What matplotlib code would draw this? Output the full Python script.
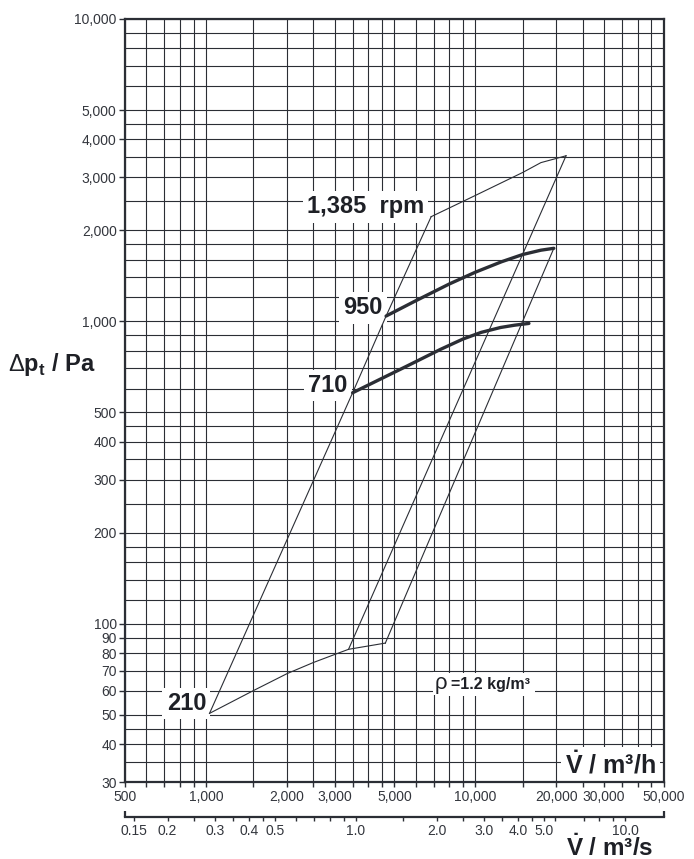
import numpy as np
import matplotlib
matplotlib.use('Agg')
import matplotlib.pyplot as plt
from matplotlib.ticker import FixedLocator, FixedFormatter, NullFormatter

plt.rcParams['font.family'] = ['Liberation Sans', 'DejaVu Sans']
plt.rcParams['mathtext.fontset'] = 'custom'
plt.rcParams['mathtext.rm'] = 'Liberation Sans:bold'
plt.rcParams['mathtext.bf'] = 'Liberation Sans:bold'
plt.rcParams['mathtext.sf'] = 'Liberation Sans'

ink = '#2b2e35'
lab = '#33363d'

# Drehzahlkennlinien: Volumenstrom m³/h, Druck Pa
rpm210_V = [1030, 1500, 2000, 2500, 3000, 3380, 4630]
rpm210_p = [50.6, 60.2, 68.5, 74.5, 79.2, 82.4, 86.4]
rpm710_V = [3500, 5570, 7410, 9000, 10500, 12400, 14000, 15800]
rpm710_p = [581, 712, 808, 875, 920, 955, 972, 985]
rpm950_V = [4660, 6000, 8000, 10000, 12500, 15000, 17500, 19550]
rpm950_p = [1042, 1170, 1330, 1455, 1575, 1665, 1720, 1745]
rpm1385_V = [6850, 10000, 15000, 17500, 20000, 21700]
rpm1385_p = [2220, 2610, 3110, 3350, 3460, 3530]

# Begrenzungslinien
left_V = [1030, 3500, 4660, 6850]
left_p = [50.6, 581, 1042, 2220]
mid_V = [3380, 21700]
mid_p = [82.4, 3530]
right_V = [4630, 19550]
right_p = [86.4, 1745]

# Achsen
x_major = [500, 1000, 2000, 3000, 5000, 10000, 20000, 30000, 50000]
x_labels = ['500', '1,000', '2,000', '3,000', '5,000', '10,000', '20,000', '30,000', '50,000']
x_minor = [600, 700, 800, 900, 1500, 2500, 3500, 4000, 4500, 6000, 7000, 8000, 9000,
           15000, 25000, 35000, 40000, 45000]
y_major = [30, 40, 50, 60, 70, 80, 90, 100, 200, 300, 400, 500,
           1000, 2000, 3000, 4000, 5000, 10000]
y_labels = ['30', '40', '50', '60', '70', '80', '90', '100', '200', '300', '400', '500',
            '1,000', '2,000', '3,000', '4,000', '5,000', '10,000']
y_minor = [35, 45, 120, 140, 160, 180, 250, 350, 450, 600, 700, 800, 900,
           1200, 1400, 1600, 1800, 2500, 3500, 4500, 6000, 7000, 8000, 9000]
s_major = [0.15, 0.2, 0.3, 0.4, 0.5, 1.0, 2.0, 3.0, 4.0, 5.0, 10.0]
s_labels = ['0.15', '0.2', '0.3', '0.4', '0.5', '1.0', '2.0', '3.0', '4.0', '5.0', '10.0']
s_minor = [0.25, 0.35, 0.45, 0.6, 0.7, 0.8, 0.9, 1.5, 2.5, 3.5, 4.5, 5.5, 7, 8, 9]

fig = plt.figure(figsize=(6.94, 8.59), dpi=100)
ax = fig.add_axes([0.1801, 0.0896, 0.7762, 0.8883])
ax.set_xscale('log')
ax.set_yscale('log')
ax.set_xlim(500, 50000)
ax.set_ylim(30, 10000)

ax.xaxis.set_major_locator(FixedLocator(x_major))
ax.xaxis.set_major_formatter(FixedFormatter(x_labels))
ax.xaxis.set_minor_locator(FixedLocator(x_minor))
ax.xaxis.set_minor_formatter(NullFormatter())
ax.yaxis.set_major_locator(FixedLocator(y_major))
ax.yaxis.set_major_formatter(FixedFormatter(y_labels))
ax.yaxis.set_minor_locator(FixedLocator(y_minor))
ax.yaxis.set_minor_formatter(NullFormatter())

ax.set_axisbelow(True)
ax.grid(which='both', color=ink, lw=0.8)
ax.tick_params(axis='x', which='both', direction='out', length=3.6, width=1,
               color=ink, pad=2, labelsize=10, labelcolor=lab)
ax.tick_params(axis='y', which='major', direction='out', length=4, width=1,
               color=ink, pad=2, labelsize=10, labelcolor=lab)
ax.tick_params(axis='y', which='minor', length=0)
for sp in ax.spines.values():
    sp.set_linewidth(1.6)
    sp.set_color(ink)

# zweite Achse m³/s
secax = ax.secondary_xaxis(-0.0455, functions=(lambda v: np.asarray(v) / 3600.0,
                                                lambda s: np.asarray(s) * 3600.0))
secax.xaxis.set_major_locator(FixedLocator(s_major))
secax.xaxis.set_major_formatter(FixedFormatter(s_labels))
secax.xaxis.set_minor_locator(FixedLocator(s_minor))
secax.xaxis.set_minor_formatter(NullFormatter())
secax.tick_params(which='both', direction='out', length=3.2, width=1, color=ink,
                  pad=2, labelsize=10, labelcolor=lab)
secax.spines['bottom'].set_linewidth(1.6)
secax.spines['bottom'].set_color(ink)
for xe in (0, 1):
    ax.plot([xe, xe], [-0.0455, -0.038], transform=ax.transAxes, color=ink,
            lw=1.6, clip_on=False, solid_capstyle='butt')

# Kurven
thin = dict(color=ink, lw=0.8, zorder=3)
thick = dict(color=ink, lw=2.4, zorder=3, solid_capstyle='round')
ax.plot(rpm210_V, rpm210_p, **thin)
ax.plot(rpm1385_V, rpm1385_p, **thin)
ax.plot(left_V, left_p, **thin)
ax.plot(mid_V, mid_p, **thin)
ax.plot(right_V, right_p, **thin)
ax.plot(rpm710_V, rpm710_p, **thick)
ax.plot(rpm950_V, rpm950_p, **thick)

box = dict(facecolor='white', edgecolor='none', pad=3)
big = dict(fontsize=17, fontweight='bold', color='#1e2026', zorder=2,
           ha='left', va='baseline', bbox=box)
ax.text(2368, 2278, '1,385  rpm', **big)
ax.text(3232, 1056, '950', **big)
ax.text(2400, 584, '710', **big)
ax.text(714, 51.9, '210', **big)

ax.text(8150, 60.9, '=1.2 kg/m³', fontsize=11.5, fontweight='bold', color='#1e2026',
        ha='left', va='baseline', zorder=2,
        bbox=dict(facecolor='white', edgecolor='none', pad=3))
ax.text(7050, 60.9, 'ρ', fontsize=16, color='#1e2026', ha='left', va='baseline',
        zorder=2.1, bbox=dict(facecolor='white', edgecolor='none', pad=1))

ax.text(46700, 32.0, r'$\dot{\mathrm{V}}$ / m³/h', fontsize=18, fontweight='bold',
        color='#1e2026', ha='right', va='baseline', zorder=2, bbox=box)
fig.text(653 / 694, 3.5 / 859, r'$\dot{\mathrm{V}}$ / m³/s', fontsize=17.5,
         fontweight='bold', color='#1e2026', ha='right', va='baseline')
fig.text(8 / 694, 1 - 370.7 / 859, r'$\mathsf{\Delta}$p$_\mathrm{t}$ / Pa', fontsize=17,
         fontweight='bold', color='#1e2026', ha='left', va='baseline')

fig.savefig('out.png', dpi=100)
